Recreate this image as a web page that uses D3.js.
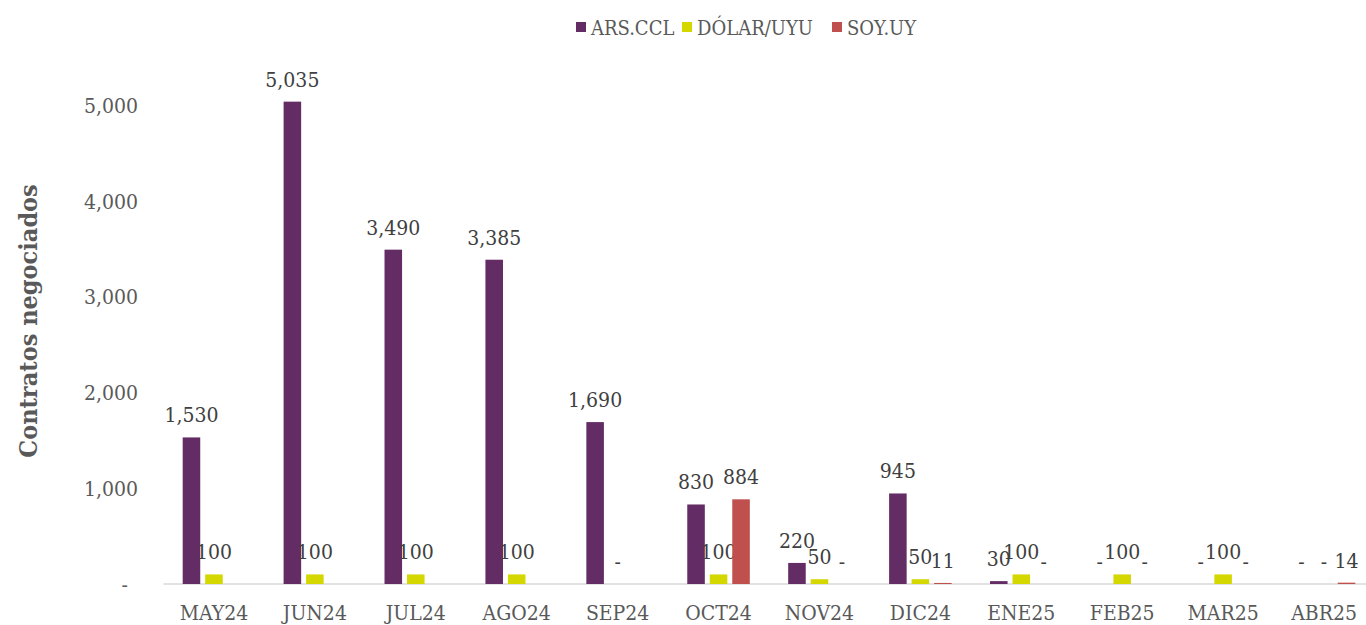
<!DOCTYPE html>
<html>
<head>
<meta charset="utf-8">
<script src="https://cdn.jsdelivr.net/npm/d3@7/dist/d3.min.js"></script>
<style>
  html, body { margin: 0; padding: 0; background: #ffffff; }
  svg { display: block; }
  text { font-family: 'DejaVu Serif Condensed', 'DejaVu Serif', serif; font-stretch: condensed; }
</style>
</head>
<body>
<script>
const categories = ["MAY24","JUN24","JUL24","AGO24","SEP24","OCT24","NOV24","DIC24","ENE25","FEB25","MAR25","ABR25"];
const seriesNames = ["ARS.CCL","DÓLAR/UYU","SOY.UY"];
const arsValues   = [1530, 5035, 3490, 3385, 1690, 830, 220, 945, 30, 0, 0, 0];
const dolarValues = [100, 100, 100, 100, 0, 100, 50, 50, 100, 100, 100, 0];
const soyValues   = [null, null, null, null, null, 884, 0, 11, 0, 0, 0, 14];
const yTicks = [0, 1000, 2000, 3000, 4000, 5000];
const colors = ["#632C65", "#D4D700", "#C0504D"];
const yTitle = "Contratos negociados";

const W = 1366, H = 625;
const svg = d3.select("body").append("svg").attr("width", W).attr("height", H);

const x0 = d3.scaleBand().domain(categories).range([163.5, 1374.5]).padding(0);
const groupW = 67.5;
const x1 = d3.scaleBand().domain(seriesNames).range([0, groupW]).paddingInner(0.22).paddingOuter(0.11);
const y = d3.scaleLinear().domain([0, 5000]).range([584, 105]);

const seriesData = [arsValues, dolarValues, soyValues];

// axis line
svg.append("line").attr("x1", 163.5).attr("x2", 1366).attr("y1", y(0)).attr("y2", y(0))
  .attr("stroke", "#d9d9d9").attr("stroke-width", 1.5);

// y axis labels
const fmt = d3.format(",");
const yAxis = d3.axisLeft(y).tickValues(yTicks).tickSize(0).tickPadding(0)
  .tickFormat(d => d === 0 ? "-" : fmt(d));
const gy = svg.append("g").attr("transform", "translate(138,0)").call(yAxis);
gy.select(".domain").remove();
gy.selectAll("text").attr("font-size", 21).attr("fill", "#595959")
  .style("font-family", "'DejaVu Serif Condensed', 'DejaVu Serif', serif")
  .attr("dy", "0.35em").attr("dx", d => d === 0 ? -10 : 0);

// x axis labels
const xAxis = d3.axisBottom(x0).tickSize(0).tickPadding(0);
const gx = svg.append("g").attr("transform", `translate(0,${y(0)})`).call(xAxis);
gx.select(".domain").remove();
gx.selectAll("text").attr("font-size", 21).attr("fill", "#595959")
  .style("font-family", "'DejaVu Serif Condensed', 'DejaVu Serif', serif")
  .attr("y", 36).attr("dy", 0);

// bars + labels
const off = (x0.bandwidth() - groupW) / 2;
seriesData.forEach((vals, si) => {
  const g = svg.append("g");
  const pts = categories.map((c, i) => ({c, v: vals[i]})).filter(d => d.v !== null);
  g.selectAll("rect").data(pts.filter(d => d.v > 0)).join("rect")
    .attr("x", d => x0(d.c) + off + x1(seriesNames[si]))
    .attr("width", x1.bandwidth())
    .attr("y", d => y(d.v))
    .attr("height", d => y(0) - y(d.v))
    .attr("fill", colors[si]);
  g.selectAll("text").data(pts).join("text")
    .attr("x", d => x0(d.c) + off + x1(seriesNames[si]) + x1.bandwidth() / 2)
    .attr("y", d => y(d.v) - 15)
    .attr("text-anchor", "middle")
    .attr("font-size", 21)
    .attr("fill", "#404040")
    .text(d => d.v === 0 ? "-" : fmt(d.v));
});

// y title
svg.append("text")
  .attr("transform", `translate(37,${321}) rotate(-90)`)
  .attr("text-anchor", "middle")
  .attr("font-size", 25)
  .attr("font-weight", "bold")
  .attr("fill", "#595959")
  .text(yTitle);

// legend
const legend = svg.append("g");
const legItems = [
  {name: seriesNames[0], x: 576},
  {name: seriesNames[1], x: 682},
  {name: seriesNames[2], x: 832}
];
legItems.forEach((it, i) => {
  legend.append("rect").attr("x", it.x).attr("y", 22).attr("width", 10).attr("height", 10).attr("fill", colors[i]);
  legend.append("text").attr("x", it.x + 15).attr("y", 35).attr("font-size", 20).attr("fill", "#595959").text(it.name);
});
</script>
</body>
</html>
